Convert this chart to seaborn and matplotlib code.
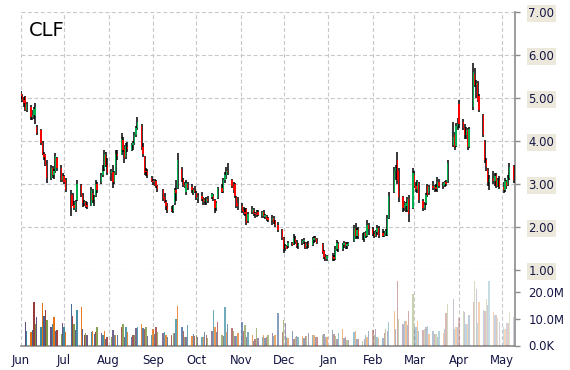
import pandas as pd
import numpy as np
import matplotlib
matplotlib.use("Agg")
import matplotlib.pyplot as plt
import matplotlib.dates as mdates
from matplotlib.colors import to_rgba
import seaborn as sns

# -------------------------------
# Data: CLF daily prices, Jun 2015 - May 2016
# -------------------------------
ticker = "CLF"
holidays = ["2015-07-03", "2015-09-07", "2015-11-26", "2015-12-25",
            "2016-01-01", "2016-01-18", "2016-02-15", "2016-03-25"]

# one line per month
open_px = [
    5.10, 5.05, 4.95, 5.02, 4.72, 4.80, 4.55, 4.60, 4.58, 4.33, 4.26, 3.95, 3.70, 3.67, 3.45, 3.15, 3.38, 3.20, 3.30, 3.60, 3.38, 3.10,
    3.18, 3.10, 2.75, 2.75, 2.52, 2.40, 2.62, 2.98, 2.75, 2.55, 2.58, 2.52, 2.50, 2.80, 2.62, 2.72, 3.00, 3.05, 3.20, 3.35, 3.68, 3.45,
    3.25, 3.28, 3.05, 3.26, 3.70, 3.68, 4.02, 3.82, 3.62, 3.85, 3.80, 3.90, 3.95, 4.15, 4.30, 4.35, 3.85, 3.65, 3.30, 3.28, 3.15,
    3.08, 3.05, 3.08, 2.95, 2.86, 2.70, 2.58, 2.48, 2.42, 2.38, 2.55, 2.85, 2.90, 3.35, 3.10, 2.98, 2.82, 3.00, 2.92, 2.80, 2.86,
    2.80, 2.65, 2.72, 2.65, 2.60, 2.58, 2.66, 2.70, 2.72, 2.62, 2.45, 2.68, 2.90, 2.84, 3.10, 3.20, 3.30, 3.10, 2.95, 3.00, 2.70, 2.55,
    2.48, 2.40, 2.35, 2.42, 2.15, 2.35, 2.40, 2.32, 2.30, 2.34, 2.25, 2.35, 2.24, 2.26, 2.20, 2.16, 2.20, 2.14, 2.05, 1.93,
    1.74, 1.52, 1.56, 1.55, 1.62, 1.60, 1.72, 1.65, 1.56, 1.62, 1.68, 1.62, 1.55, 1.60, 1.58, 1.70, 1.74, 1.72, 1.60, 1.45, 1.30, 1.25,
    1.32, 1.30, 1.25, 1.48, 1.60, 1.48, 1.58, 1.62, 1.55, 1.58, 1.68, 1.95, 1.80, 1.92, 1.78, 1.72, 1.85, 1.80, 2.05,
    1.95, 1.83, 1.80, 1.88, 1.98, 1.85, 1.80, 1.84, 1.82, 2.20, 2.82, 3.30, 3.55, 3.30, 2.70, 2.45, 2.50, 2.40, 2.65, 2.45,
    3.20, 2.95, 2.85, 3.02, 2.60, 2.45, 2.55, 2.95, 2.78, 2.95, 2.90, 2.92, 2.88, 3.05, 2.95, 2.98, 3.04, 3.04, 3.90, 4.15, 3.88, 4.35,
    4.85, 4.45, 4.30, 4.15, 4.25, 3.86, 4.80, 5.55, 5.30, 5.35, 5.05, 4.60, 4.00, 3.55, 3.35, 3.05, 3.15, 3.08, 3.20, 2.95, 3.10,
    2.92, 2.85, 3.05, 2.98, 3.15, 3.42,
]
high_px = [
    5.17, 5.10, 5.02, 5.05, 4.91, 4.84, 4.72, 4.80, 4.88, 4.38, 4.28, 4.00, 3.75, 3.70, 3.56, 3.44, 3.42, 3.35, 3.72, 3.62, 3.44, 3.25,
    3.20, 3.13, 2.86, 2.80, 2.60, 2.63, 3.10, 3.00, 2.80, 2.63, 2.60, 2.58, 2.93, 2.88, 2.75, 3.10, 3.05, 3.26, 3.44, 3.79, 3.75, 3.60,
    3.35, 3.44, 3.30, 3.79, 3.80, 4.19, 4.10, 3.90, 3.95, 3.97, 3.95, 4.00, 4.20, 4.35, 4.56, 4.40, 3.95, 3.66, 3.37, 3.35, 3.18,
    3.12, 3.12, 3.10, 2.98, 2.88, 2.80, 2.62, 2.55, 2.50, 2.52, 2.90, 3.10, 3.72, 3.40, 3.15, 3.05, 3.09, 3.05, 3.00, 2.90, 2.95,
    2.84, 2.78, 2.82, 2.70, 2.68, 2.70, 2.72, 2.78, 2.76, 2.66, 2.60, 2.94, 3.00, 3.15, 3.29, 3.40, 3.48, 3.12, 3.05, 3.02, 2.72, 2.70,
    2.55, 2.47, 2.44, 2.44, 2.35, 2.50, 2.45, 2.36, 2.40, 2.40, 2.38, 2.40, 2.30, 2.28, 2.24, 2.28, 2.26, 2.16, 2.12, 1.95,
    1.76, 1.60, 1.58, 1.67, 1.66, 1.83, 1.78, 1.70, 1.62, 1.72, 1.74, 1.64, 1.66, 1.68, 1.76, 1.78, 1.80, 1.74, 1.62, 1.47, 1.38, 1.35,
    1.40, 1.35, 1.55, 1.70, 1.65, 1.62, 1.67, 1.66, 1.65, 1.66, 2.05, 2.09, 1.98, 2.00, 1.85, 1.89, 1.90, 2.16, 2.10,
    2.00, 1.90, 1.92, 2.05, 2.02, 1.95, 1.90, 1.95, 2.28, 2.81, 3.40, 3.45, 3.74, 3.37, 2.72, 2.60, 2.58, 2.70, 2.74, 3.37,
    3.30, 3.05, 3.10, 3.05, 2.65, 2.58, 2.80, 3.00, 2.98, 3.08, 2.98, 3.00, 3.16, 3.12, 3.05, 3.08, 3.10, 3.56, 4.45, 4.21, 4.42, 4.53,
    4.95, 4.52, 4.40, 4.33, 4.30, 4.33, 5.81, 5.70, 5.42, 5.40, 5.10, 4.62, 4.02, 3.60, 3.37, 3.20, 3.30, 3.25, 3.25, 3.15, 3.18,
    3.05, 3.14, 3.10, 3.20, 3.49, 3.45,
]
low_px = [
    4.98, 4.90, 4.80, 4.70, 4.68, 4.50, 4.48, 4.52, 4.40, 4.14, 3.90, 3.67, 3.55, 3.42, 3.03, 3.10, 3.15, 3.12, 3.26, 3.30, 3.05, 3.05,
    3.00, 2.82, 2.26, 2.48, 2.40, 2.35, 2.60, 2.70, 2.47, 2.50, 2.45, 2.42, 2.48, 2.55, 2.50, 2.70, 2.78, 3.00, 3.16, 3.30, 3.40, 3.20,
    3.07, 2.90, 3.00, 3.22, 3.55, 3.67, 3.75, 3.49, 3.58, 3.74, 3.76, 3.80, 3.90, 4.10, 4.26, 3.79, 3.63, 3.20, 3.19, 3.15, 3.05,
    2.98, 2.95, 2.90, 2.82, 2.60, 2.56, 2.40, 2.33, 2.34, 2.33, 2.52, 2.60, 2.88, 3.05, 2.92, 2.90, 2.74, 2.85, 2.80, 2.75, 2.78,
    2.62, 2.55, 2.60, 2.51, 2.52, 2.52, 2.55, 2.66, 2.60, 2.33, 2.38, 2.66, 2.78, 2.80, 3.02, 3.12, 3.20, 2.90, 2.80, 2.67, 2.45, 2.40,
    2.32, 2.28, 2.25, 2.05, 2.10, 2.30, 2.25, 2.22, 2.23, 2.25, 2.20, 2.22, 2.18, 2.15, 2.12, 2.05, 2.08, 2.00, 1.89, 1.70,
    1.40, 1.45, 1.48, 1.52, 1.55, 1.58, 1.60, 1.52, 1.50, 1.58, 1.60, 1.50, 1.50, 1.52, 1.55, 1.62, 1.66, 1.60, 1.38, 1.26, 1.20, 1.20,
    1.22, 1.20, 1.23, 1.45, 1.42, 1.45, 1.52, 1.50, 1.50, 1.55, 1.65, 1.72, 1.75, 1.72, 1.70, 1.65, 1.74, 1.76, 1.82,
    1.80, 1.75, 1.76, 1.82, 1.75, 1.76, 1.76, 1.80, 1.80, 2.18, 2.80, 3.10, 3.00, 2.58, 2.35, 2.38, 2.35, 2.36, 2.12, 2.42,
    2.90, 2.82, 2.80, 2.56, 2.37, 2.40, 2.52, 2.70, 2.75, 2.86, 2.82, 2.84, 2.81, 2.90, 2.88, 2.92, 2.95, 3.02, 3.85, 3.79, 3.85, 4.26,
    4.30, 4.25, 4.05, 4.05, 3.79, 3.84, 4.72, 5.25, 5.00, 4.90, 4.68, 4.10, 3.49, 3.30, 2.95, 2.86, 3.00, 2.95, 2.90, 2.92, 2.88,
    2.79, 2.82, 2.88, 2.96, 3.10, 3.02,
]
close_px = [
    5.05, 4.95, 4.88, 4.72, 4.85, 4.55, 4.60, 4.74, 4.78, 4.18, 3.95, 3.70, 3.62, 3.45, 3.15, 3.38, 3.20, 3.30, 3.65, 3.38, 3.10, 3.18,
    3.05, 2.85, 2.45, 2.52, 2.45, 2.58, 3.00, 2.75, 2.55, 2.58, 2.48, 2.46, 2.85, 2.62, 2.70, 3.00, 2.85, 3.20, 3.30, 3.70, 3.45, 3.25,
    3.30, 3.05, 3.25, 3.70, 3.65, 4.05, 3.80, 3.60, 3.88, 3.82, 3.90, 3.95, 4.14, 4.30, 4.45, 3.85, 3.70, 3.25, 3.28, 3.20, 3.08,
    3.05, 3.08, 2.95, 2.88, 2.65, 2.60, 2.48, 2.40, 2.38, 2.48, 2.85, 2.80, 3.55, 3.10, 2.98, 2.95, 3.02, 2.90, 2.85, 2.86, 2.82,
    2.68, 2.70, 2.65, 2.58, 2.62, 2.66, 2.60, 2.76, 2.65, 2.45, 2.55, 2.90, 2.82, 3.10, 3.20, 3.30, 3.28, 2.95, 2.85, 2.72, 2.50, 2.48,
    2.38, 2.35, 2.30, 2.10, 2.30, 2.42, 2.32, 2.30, 2.28, 2.27, 2.35, 2.25, 2.28, 2.18, 2.16, 2.20, 2.12, 2.05, 1.92, 1.75,
    1.50, 1.55, 1.50, 1.63, 1.58, 1.75, 1.65, 1.56, 1.60, 1.68, 1.70, 1.52, 1.60, 1.58, 1.70, 1.74, 1.72, 1.62, 1.42, 1.30, 1.25, 1.32,
    1.30, 1.25, 1.50, 1.62, 1.48, 1.58, 1.62, 1.55, 1.60, 1.62, 1.98, 1.80, 1.92, 1.78, 1.80, 1.85, 1.78, 2.05, 1.95,
    1.83, 1.80, 1.88, 1.98, 1.80, 1.80, 1.84, 1.90, 2.20, 2.72, 3.30, 3.38, 3.10, 2.70, 2.45, 2.50, 2.55, 2.65, 2.30, 3.25,
    2.95, 2.88, 3.05, 2.62, 2.45, 2.52, 2.75, 2.75, 2.92, 2.90, 2.95, 2.88, 3.05, 2.95, 3.02, 3.04, 3.00, 3.50, 4.10, 3.85, 4.35, 4.40,
    4.40, 4.30, 4.15, 4.25, 3.85, 4.28, 5.60, 5.30, 5.35, 4.95, 4.72, 4.15, 3.55, 3.40, 3.05, 3.12, 3.08, 3.18, 2.95, 3.10, 2.92,
    2.85, 3.08, 2.95, 3.15, 3.40, 3.10,
]
# volume in millions of shares
volume_m = [
    0.0, 0.0, 0.0, 8.9, 5.2, 4.9, 5.8, 16.3, 7.8, 10.7, 7.0, 15.7, 11.1, 13.3, 9.5, 6.8, 7.9, 10.7, 5.3, 5.6, 4.3, 8.3,
    6.8, 5.0, 15.3, 11.1, 7.8, 5.6, 13.3, 14.2, 6.3, 3.8, 4.6, 3.8, 5.0, 5.2, 4.1, 5.0, 7.0, 4.6, 3.9, 5.3, 2.4, 3.3,
    3.3, 5.6, 4.0, 4.0, 4.0, 6.8, 7.8, 3.0, 6.8, 5.0, 3.0, 3.8, 3.8, 6.4, 6.7, 8.0, 6.4, 6.0, 6.8, 3.6, 4.0,
    6.0, 4.4, 6.7, 4.9, 4.6, 5.0, 3.8, 3.3, 4.0, 4.6, 4.6, 9.8, 14.7, 7.0, 5.4, 3.1, 3.1, 7.7, 3.6, 4.2, 3.5,
    3.9, 3.3, 3.3, 3.3, 4.9, 4.0, 2.9, 5.4, 13.2, 6.7, 4.9, 8.6, 4.0, 3.6, 14.1, 5.1, 7.8, 6.4, 5.4, 3.6, 3.6, 4.5,
    8.7, 5.4, 7.7, 3.1, 4.9, 4.0, 1.5, 2.5, 6.5, 2.8, 3.3, 4.0, 2.8, 3.3, 4.0, 4.6, 3.5, 4.0, 12.2, 4.9,
    9.3, 8.3, 3.3, 2.8, 5.4, 2.3, 3.2, 3.6, 3.0, 3.6, 2.9, 3.4, 3.6, 4.6, 4.0, 4.0, 3.1, 3.3, 4.0, 4.4, 3.3, 3.1,
    5.8, 4.4, 3.6, 2.3, 4.6, 6.0, 2.8, 3.3, 2.2, 2.0, 4.9, 5.4, 2.3, 2.3, 1.8, 2.3, 4.0, 3.1, 5.4,
    5.8, 4.0, 6.0, 3.3, 2.9, 2.9, 4.5, 6.0, 5.2, 8.7, 12.9, 6.0, 24.0, 9.8, 7.9, 9.2, 9.2, 7.6, 12.9, 19.1,
    6.7, 6.7, 9.2, 5.2, 5.8, 6.0, 7.0, 7.3, 4.4, 5.2, 4.4, 4.4, 3.1, 5.4, 4.5, 6.0, 12.0, 15.4, 17.3, 6.3, 6.7, 6.8,
    10.1, 12.9, 12.6, 8.1, 8.1, 11.4, 16.3, 24.0, 21.0, 8.3, 16.3, 13.2, 12.9, 17.2, 15.1, 24.0, 12.3, 11.4, 11.4, 10.1, 8.9,
    6.8, 6.0, 8.3, 8.5, 12.6, 10.7,
]
price_ticks = [1, 2, 3, 4, 5, 6, 7]
vol_ticks = [0, 10e6, 20e6]
vol_tick_labels = ["0.0K", "10.0M", "20.0M"]

dates = pd.bdate_range("2015-06-01", "2016-05-09")
dates = dates[~dates.isin(pd.to_datetime(holidays))]

df = pd.DataFrame({
    "date": dates,
    "open": open_px,
    "high": high_px,
    "low": low_px,
    "close": close_px,
    "volume": np.array(volume_m) * 1e6,
})
df["x"] = mdates.date2num(df["date"])
df["up"] = df["close"] >= df["open"]

# -------------------------------
# Style
# -------------------------------
sns.set_style("white")
plt.rcParams["font.family"] = ["DejaVu Sans"]
text_col = "#151545"
axis_col = "#8c8c8c"
grid_kw = dict(color="#c8c8c8", linestyle=(0, (3.6, 2.2)), linewidth=0.8)

fig = plt.figure(figsize=(5.7, 3.7), dpi=100)
W, H = 570, 370
ax = fig.add_axes([21 / W, 1 - 270 / H, 494 / W, 258 / H])
axv = fig.add_axes([21 / W, 1 - 345.5 / H, 494 / W, 75.5 / H], sharex=ax)

# -------------------------------
# Candles
# -------------------------------
ax.vlines(df["x"], df["low"], df["high"], color="black", linewidth=1.1, zorder=3)
up = df[df["up"]]
dn = df[~df["up"]]
ax.bar(up["x"], up["close"] - up["open"], bottom=up["open"], width=0.9,
       color="#00b050", linewidth=0, zorder=4)
ax.bar(dn["x"], dn["open"] - dn["close"], bottom=dn["close"], width=0.9,
       color="#ff0000", linewidth=0, zorder=4)

# -------------------------------
# Volume bars (cycling colours, fading over time)
# -------------------------------
palette = sns.color_palette(["#376092", "#953735", "#77933c", "#604a7b", "#31859c", "#e46c0a"])
fade = np.linspace(1.0, 0.25, len(df))
bar_cols = [to_rgba(palette[i % len(palette)], fade[i]) for i in range(len(df))]
axv.bar(df["x"], df["volume"], width=0.95, color=bar_cols, linewidth=0, zorder=3)

# -------------------------------
# Axes
# -------------------------------
ax.set_xlim(mdates.date2num(pd.Timestamp("2015-06-01")), mdates.date2num(pd.Timestamp("2016-05-10")))
ax.set_ylim(1, 7)
axv.set_ylim(0, 28e6)

for a in (ax, axv):
    for s in ("top", "left"):
        a.spines[s].set_visible(False)
    a.spines["right"].set_color(axis_col)
    a.spines["right"].set_linewidth(1.2)
    a.yaxis.tick_right()
    a.tick_params(axis="y", which="major", direction="out", length=3.5, width=1,
                  color=axis_col, labelsize=8.4, labelcolor=text_col, pad=6)
    a.set_axisbelow(True)
    a.set_xlabel("")
    a.set_ylabel("")

ax.spines["bottom"].set_visible(False)
axv.spines["bottom"].set_color(axis_col)
axv.spines["bottom"].set_linewidth(1.2)

ax.set_yticks(price_ticks, labels=[f"{v:.2f}" for v in price_ticks])
for t in ax.yaxis.get_major_ticks():
    t.label2.set_bbox(dict(facecolor="#ece9dc", edgecolor="none", pad=1.2))
axv.set_yticks(vol_ticks, labels=vol_tick_labels)

axv.xaxis.set_major_locator(mdates.MonthLocator())
axv.xaxis.set_major_formatter(mdates.DateFormatter("%b"))
axv.tick_params(axis="x", direction="out", length=3, width=1, color=axis_col,
                labelsize=8.4, labelcolor=text_col, pad=3)
ax.tick_params(axis="x", bottom=False, labelbottom=False)

ax.grid(True, axis="both", **grid_kw)
axv.grid(True, axis="x", **grid_kw)
axv.grid(False, axis="y")

ax.text(0.016, 0.967, ticker, transform=ax.transAxes, ha="left", va="top",
        fontsize=14, color="black")

fig.savefig("out.png", dpi=100)
